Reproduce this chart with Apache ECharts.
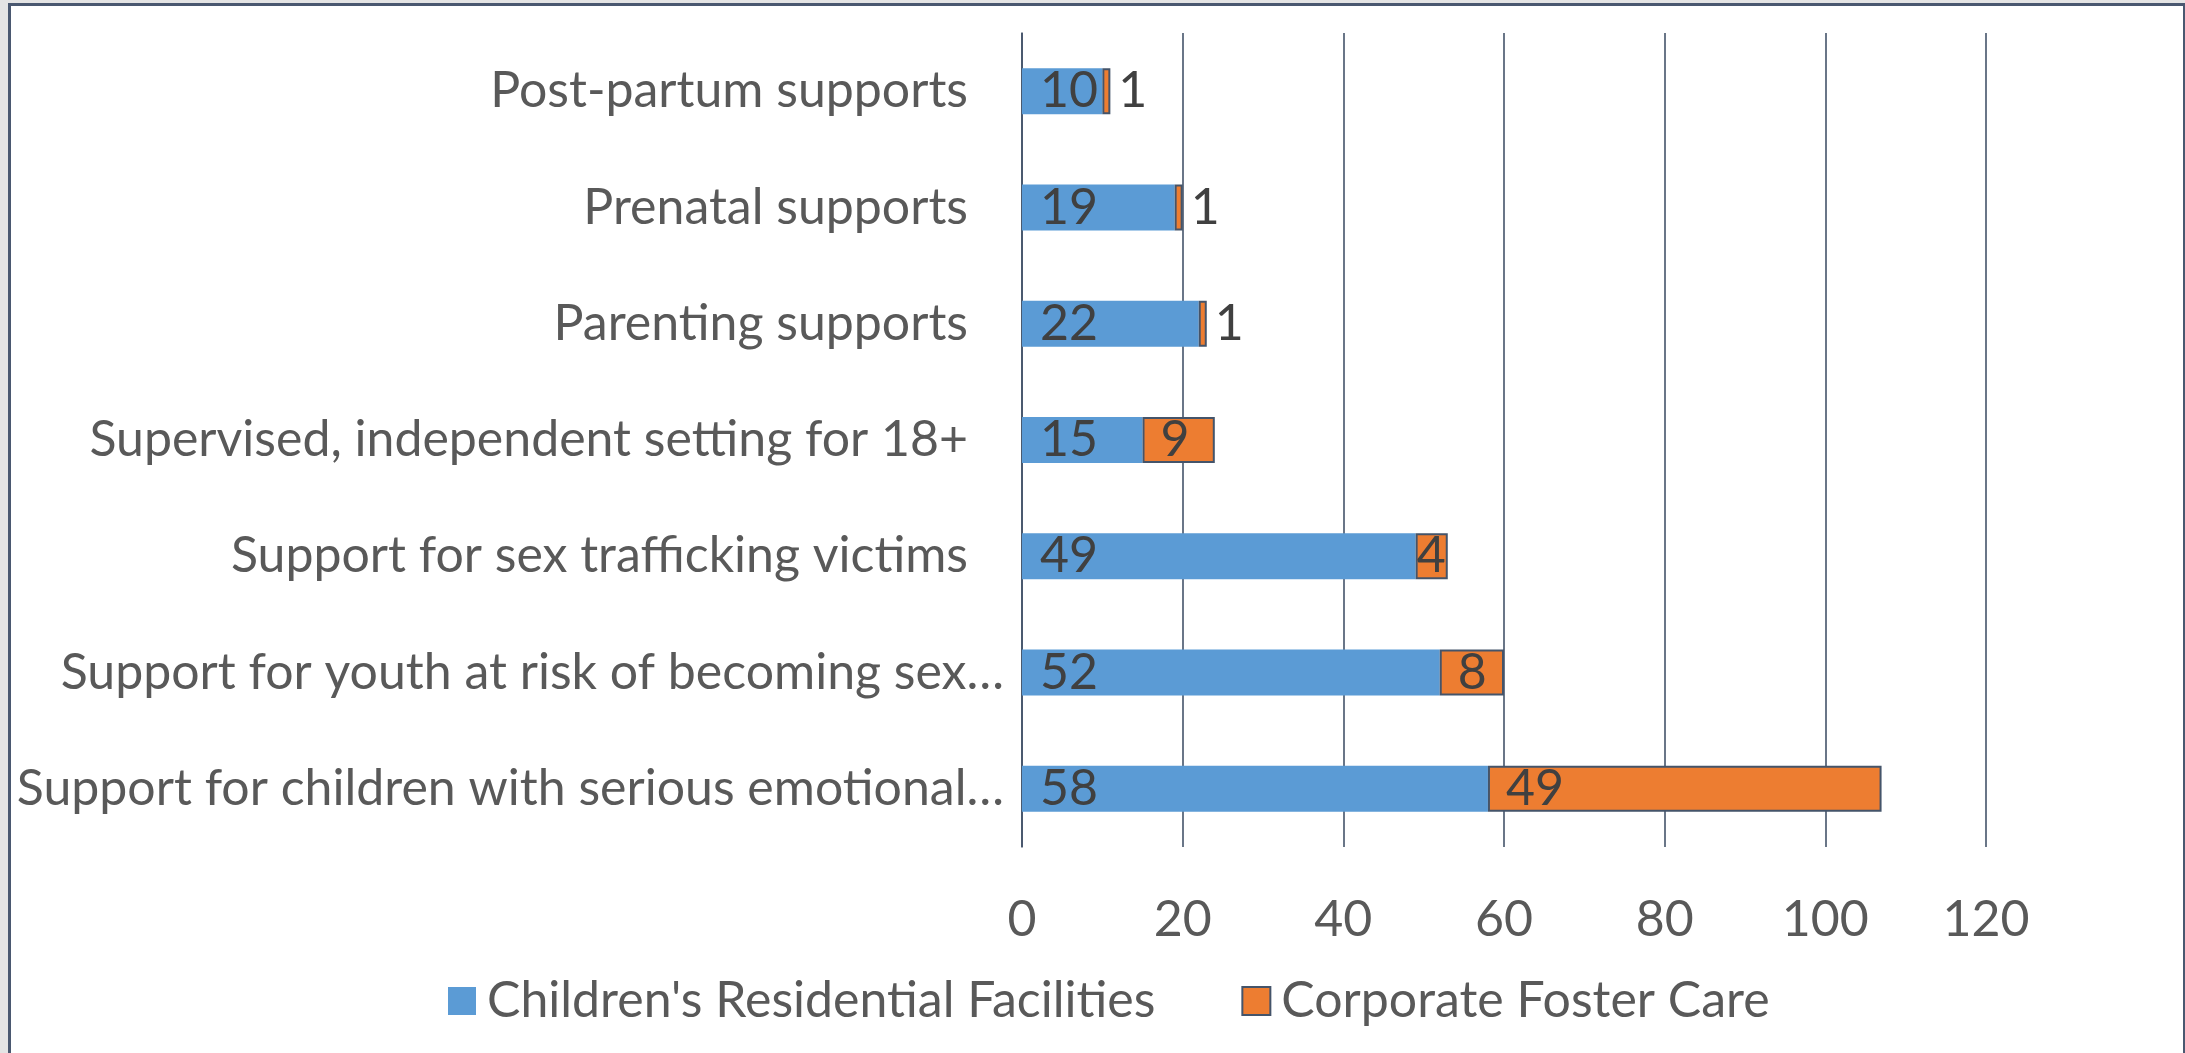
<!DOCTYPE html>
<html>
<head>
<meta charset="utf-8">
<script src="https://cdn.jsdelivr.net/npm/echarts@6/dist/echarts.min.js"></script>
<style>
  html, body { margin: 0; padding: 0; background: #e4e4e4; overflow: hidden; }
  #frame { position: absolute; left: 8px; top: 3px; width: 2172px; height: 1060px;
           border: 3px solid #4a5870; border-bottom: none; background: #fff; }
  #chart { position: absolute; left: 0; top: 0; width: 2185px; height: 1053px; }
</style>
</head>
<body>
<div id="frame"></div>
<div id="chart"></div>
<script>
var categories = [
	'Post-partum supports',
	'Prenatal supports',
	'Parenting supports',
	'Supervised, independent setting for 18+',
	'Support for sex trafficking victims',
	'Support for youth at risk of becoming sex\u2026',
	'Support for children with serious emotional\u2026'
];
var residential = [10, 19, 22, 15, 49, 52, 58];
var fosterCare = [1, 1, 1, 9, 4, 8, 49];
var xTicks = [0, 20, 40, 60, 80, 100, 120];

var fontName = 'Lato';
var fontSize = 50;

function fosterData(){
	var out = [];
	for (var i = 0; i < fosterCare.length; i++) {
		var v = fosterCare[i];
		var item = { value: v };
		// tiny slices get their label outside the bar
		if (v < 3) {
			item.label = { position: 'right', distance: 8 };
		} else if (v < 6) {
			item.label = { distance: 1 };
		}
		out.push(item);
	}
	return out;
}

var chart = echarts.init(document.getElementById('chart'));
var option = {
	backgroundColor: 'transparent',
	animation: false,
	grid: { left: 1022, right: 199, top: 33, bottom: 206, containLabel: false },
	legend: {
		bottom: 22,
		left: 443,
		icon: 'rect',
		itemWidth: 28,
		itemHeight: 28,
		itemGap: 86,
		textStyle: { fontFamily: fontName, fontSize: fontSize, color: '#595959', padding: [0, 0, 0, 6] },
		data: [
			{ name: "Children's Residential Facilities", itemStyle: { borderWidth: 0 } },
			{ name: 'Corporate Foster Care', itemStyle: { borderColor: '#44546a', borderWidth: 2 } }
		]
	},
	xAxis: {
		type: 'value',
		min: xTicks[0],
		max: xTicks[xTicks.length - 1],
		interval: xTicks[1] - xTicks[0],
		axisLine: { show: false },
		axisTick: { show: false },
		splitLine: { show: true, lineStyle: { color: '#44546a', width: 1.6 } },
		axisLabel: { fontFamily: fontName, fontSize: fontSize, color: '#595959', margin: 48 }
	},
	yAxis: {
		type: 'category',
		inverse: true,
		data: categories,
		axisLine: { show: true, lineStyle: { color: '#44546a', width: 1.6 } },
		axisTick: { show: false },
		axisLabel: {
			fontFamily: fontName,
			fontSize: fontSize,
			color: '#595959',
			margin: 18,
			formatter: function(v){
				if (v.charAt(v.length - 1) === '\u2026') return v;
				return '{p|' + v + '}';
			},
			rich: {
				p: { fontFamily: fontName, fontSize: fontSize, color: '#595959', padding: [0, 36, 0, 0] }
			}
		}
	},
	series: [
		{
			name: "Children's Residential Facilities",
			type: 'bar',
			stack: 'total',
			barWidth: 46,
			data: residential,
			itemStyle: { color: '#5b9bd5' },
			label: {
				show: true, position: 'insideLeft', distance: 18,
				fontFamily: fontName, fontSize: fontSize, color: '#404040'
			}
		},
		{
			name: 'Corporate Foster Care',
			type: 'bar',
			stack: 'total',
			barWidth: 46,
			data: fosterData(),
			itemStyle: { color: '#ed7d31', borderColor: '#44546a', borderWidth: 2 },
			label: {
				show: true, position: 'insideLeft', distance: 18,
				fontFamily: fontName, fontSize: fontSize, color: '#404040'
			}
		}
	]
};
chart.setOption(option);
</script>
</body>
</html>
